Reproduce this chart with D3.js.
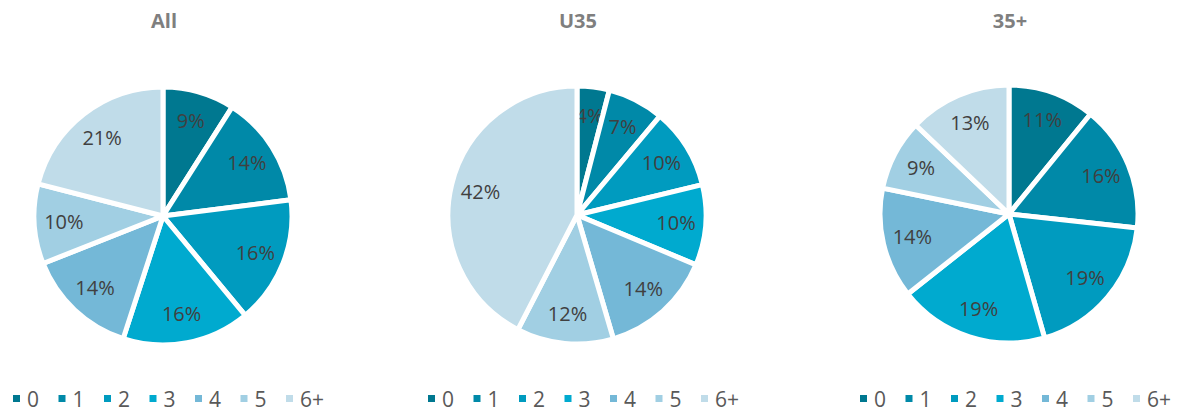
<!DOCTYPE html>
<html>
<head>
<meta charset="utf-8">
<script src="https://cdn.jsdelivr.net/npm/d3@7"></script>
<style>
  body { margin: 0; background: #fff; }
  svg { display: block; font-family: "Open Sans", sans-serif; }
</style>
</head>
<body>
<div id="chart"></div>
<script>
!(function () {
  'use strict';
  // - - - - - - - - - -
  // data
  const categories = ['0', '1', '2', '3', '4', '5', '6+'];
  const titles = ['All', 'U35', '35+'];
  const allValues = [9, 14, 16, 16, 14, 10, 21];
  const u35Values = [4, 7, 10, 10, 14, 12, 42];
  const over35Values = [11, 16, 19, 19, 14, 9, 13];
  const colors = ['#007890', '#0089a8', '#009bbf', '#00aacf', '#74b8d7', '#a1cfe3', '#c0dce9'];

  // layout
  const width = 1177, height = 412;
  const panels = [
    { title: titles[0], values: allValues, cx: 163, cy: 216, legendX: 13 },
    { title: titles[1], values: u35Values, cx: 577, cy: 215, legendX: 428 },
    { title: titles[2], values: over35Values, cx: 1009, cy: 214, legendX: 860 }
  ];
  const radius = 129;

  const svg = d3.select('#chart').append('svg')
    .attr('width', width)
    .attr('height', height);

  const color = d3.scaleOrdinal().domain(categories).range(colors);

  const pie = d3.pie()
    .sort(null)
    .value(function (d) { return d.value; });

  const arc = d3.arc().innerRadius(0).outerRadius(radius);
  const labelArc = d3.arc().innerRadius(radius * 0.77).outerRadius(radius * 0.77);

  const legendX = d3.scalePoint().domain(categories).range([0, 273]);

  panels.forEach(function (p) {
    const data = categories.map(function (c, i) { return { cat: c, value: p.values[i] }; });

    svg.append('text')
      .attr('x', p.cx + 1)
      .attr('y', 28)
      .attr('text-anchor', 'middle')
      .attr('font-size', 20)
      .attr('font-weight', 'bold')
      .attr('fill', '#7f7f7f')
      .text(p.title);

    const g = svg.append('g')
      .attr('transform', 'translate(' + p.cx + ',' + p.cy + ')');

    const slices = g.selectAll('g.slice')
      .data(pie(data))
      .join('g')
      .attr('class', 'slice');

    slices.append('path')
      .attr('d', arc)
      .attr('fill', function (d) { return color(d.data.cat); })
      .attr('stroke', '#fff')
      .attr('stroke-width', 5)
      .attr('stroke-linejoin', 'round');

    slices.append('text')
      .attr('transform', function (d) { return 'translate(' + labelArc.centroid(d) + ')'; })
      .attr('text-anchor', 'middle')
      .attr('dy', '0.35em')
      .attr('font-size', 20)
      .attr('fill', '#404040')
      .text(function (d) { return d.data.value + '%'; });

    // legend
    const lg = svg.append('g')
      .attr('transform', 'translate(' + p.legendX + ',399)');

    const items = lg.selectAll('g.item')
      .data(categories)
      .join('g')
      .attr('class', 'item')
      .attr('transform', function (d) { return 'translate(' + legendX(d) + ',0)'; });

    items.append('rect')
      .attr('x', 0)
      .attr('y', -4)
      .attr('width', 7)
      .attr('height', 7)
      .attr('fill', function (d) { return color(d); });

    items.append('text')
      .attr('x', 14)
      .attr('y', 0)
      .attr('dy', '0.36em')
      .attr('font-size', 21)
      .attr('fill', '#595959')
      .text(function (d) { return d; });
  });
  // - - - - - - - - - -
}());
</script>
</body>
</html>
